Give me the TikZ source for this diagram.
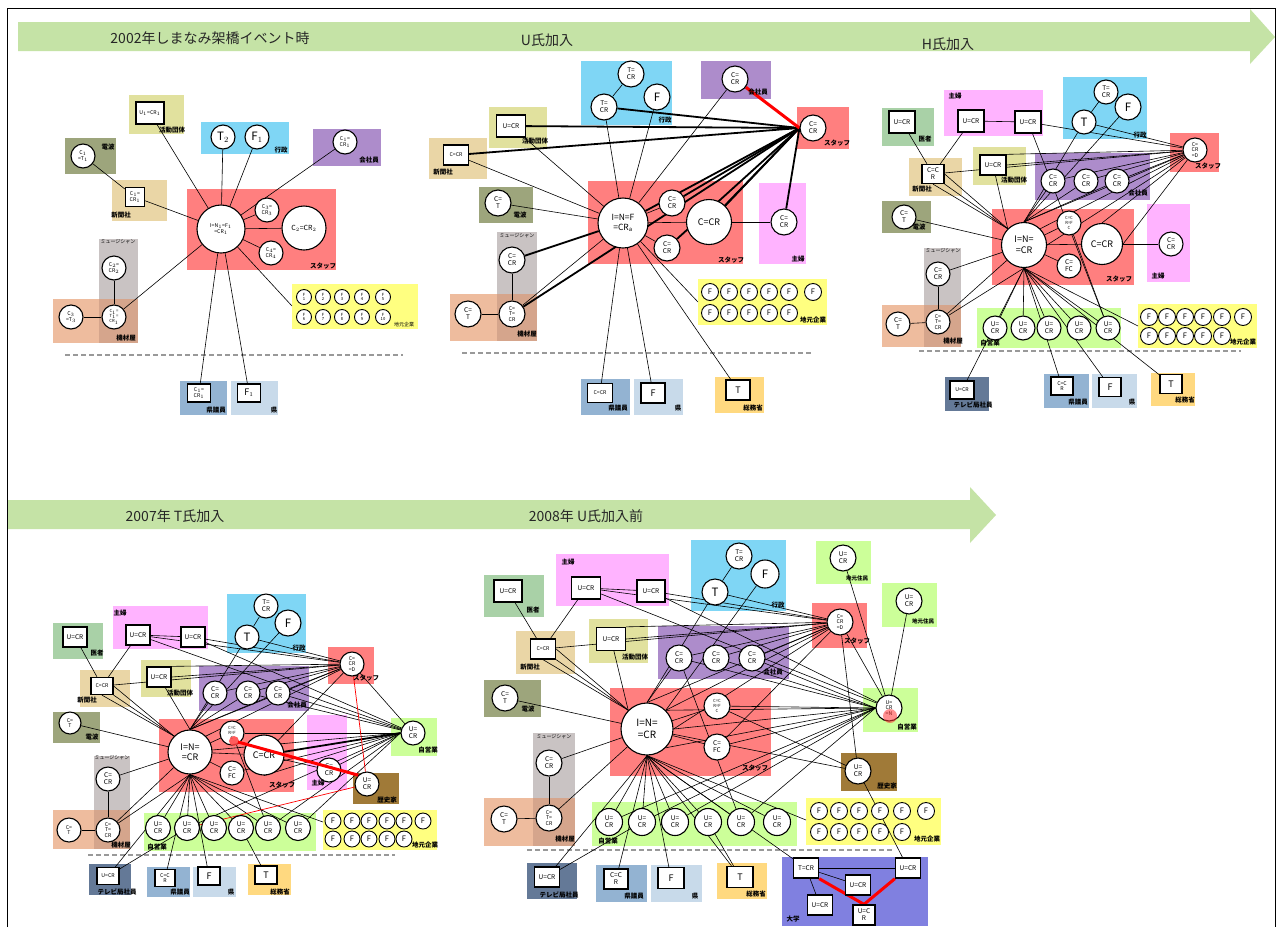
\documentclass[tikz,border=0pt]{standalone}
\usepackage{fontspec}
\setmainfont{Noto Sans CJK JP}
\usetikzlibrary{calc}
\pgfdeclarelayer{bgl}\pgfdeclarelayer{edl}
\pgfsetlayers{bgl,edl,main}
\definecolor{staffR}{HTML}{FF7F7F}
\definecolor{gyosei}{HTML}{7FD6F5}
\definecolor{kaisha}{HTML}{AD8CCB}
\definecolor{denpa}{HTML}{9DA57C}
\definecolor{shinbun}{HTML}{EAD6A6}
\definecolor{katsudo}{HTML}{E1E19E}
\definecolor{music}{HTML}{C9C3C3}
\definecolor{kizai}{HTML}{EEBC9E}
\definecolor{overlap}{HTML}{D5A58C}
\definecolor{chimoto}{HTML}{FFFF80}
\definecolor{kengiin}{HTML}{93B3D2}
\definecolor{ken}{HTML}{C8DAEA}
\definecolor{soumu}{HTML}{FFD980}
\definecolor{shufu}{HTML}{FFB3FF}
\definecolor{isha}{HTML}{A9D1A7}
\definecolor{jiei}{HTML}{CCFF99}
\definecolor{tvc}{HTML}{647997}
\definecolor{rekishi}{HTML}{A07A38}
\definecolor{daigaku}{HTML}{8080E0}
\definecolor{arrowg}{HTML}{C5E3A6}
\newcommand{\nfs}{\fontsize{6.5}{7}\selectfont}
\newcommand{\nfx}{\fontsize{5.2}{5.8}\selectfont}
\newcommand{\nft}{\fontsize{4.2}{4.6}\selectfont}
\newcommand{\nfm}{\fontsize{9}{9.5}\selectfont}
\newcommand{\nfl}{\fontsize{11.5}{12}\selectfont}
\newcommand{\lbf}{\fontsize{6.5}{7}\selectfont\bfseries}
\newcommand{\lsm}{\fontsize{5}{5.5}\selectfont}
\newcommand{\ttf}{\fontsize{14}{15}\selectfont}
\tikzset{
  cn/.style={circle,draw,fill=white,line width=1.1pt,inner sep=0pt,align=center,font=\nfs,minimum size=24pt},
  sq/.style={rectangle,draw,fill=white,line width=1.3pt,inner sep=0pt,align=center,font=\nfs,minimum width=24pt,minimum height=20pt},
  fc/.style={cn,minimum size=17pt,line width=0.9pt,font=\fontsize{7.5}{7.5}\selectfont},
  fcs/.style={cn,minimum size=15pt,line width=0.9pt,font=\nft},
  lab/.style={font=\lbf,inner sep=0pt},
  labs/.style={font=\lsm,inner sep=0pt},
  ttl/.style={font=\ttf,inner sep=0pt,text=black!85},
  e/.style={line width=0.6pt,black},
  tk/.style={line width=1.8pt,black},
  rd/.style={line width=3pt,red},
  rdt/.style={line width=0.7pt,red},
  dl/.style={line width=1.2pt,gray!80,dash pattern=on 5pt off 3pt}
}
\begin{document}
\begin{tikzpicture}[x=1pt,y=-1pt]
\useasboundingbox (0,0) rectangle (1276,927);
\begin{pgfonlayer}{bgl}
\fill[white] (0,0) rectangle (1276,927);
\draw[line width=1pt] (7,927)--(7,8)--(1275,8)--(1275,927);
\fill[arrowg] (18,22)--(1250,22)--(1250,9)--(1275,37)--(1250,64)--(1250,51)--(18,51)--cycle;
\fill[arrowg] (8,500)--(970,500)--(970,487)--(996,515)--(970,543)--(970,529)--(8,529)--cycle;
% panel 1 backgrounds
\fill[katsudo] (129,95) rectangle (184,134);
\fill[gyosei] (201,122) rectangle (289,154);
\fill[kaisha] (313,129) rectangle (381,166);
\fill[denpa] (65,138) rectangle (116,174);
\fill[shinbun] (112,180) rectangle (167,221);
\fill[staffR] (187,189) rectangle (336,270);
\fill[chimoto] (292,284) rectangle (418,329);
\fill[music] (99,239) rectangle (138,343);
\fill[kizai] (53,299) rectangle (138,343);
\fill[overlap] (99,299) rectangle (138,343);
\fill[kengiin] (180,381) rectangle (227,415);
\fill[ken] (231,381) rectangle (278,415);
\draw[dl] (65,355)--(403,355);
% panel 2 backgrounds
\fill[gyosei] (581,61) rectangle (672,125);
\fill[kaisha] (701,61) rectangle (771,99);
\fill[staffR] (797,107) rectangle (849,149);
\fill[katsudo] (489,107) rectangle (547,148);
\fill[shinbun] (429,138) rectangle (487,179);
\fill[denpa] (479,187) rectangle (533,223);
\fill[staffR] (588,181) rectangle (743,264);
\fill[shufu] (759,183) rectangle (806,264);
\fill[music] (497,232) rectangle (537,340);
\fill[kizai] (450,294) rectangle (537,341);
\fill[overlap] (497,294) rectangle (537,341);
\fill[chimoto] (698,279) rectangle (827,325);
\fill[kengiin] (581,379) rectangle (630,415);
\fill[ken] (634,379) rectangle (683,415);
\fill[soumu] (715,377) rectangle (764,413);
\draw[dl] (462,353)--(813,353);
% panel 3 backgrounds
\fill[isha] (882,108) rectangle (934,146);
\fill[shufu] (944,90) rectangle (1043,136);
\fill[gyosei] (1063,77) rectangle (1147,139);
\fill[staffR] (1170,133) rectangle (1219,172);
\fill[shinbun] (909,158) rectangle (962,196);
\fill[katsudo] (973,147) rectangle (1026,185);
\fill[kaisha] (1035,153) rectangle (1150,200);
\fill[denpa] (882,201) rectangle (931,233);
\fill[staffR] (992,209) rectangle (1134,285);
\fill[shufu] (1147,204) rectangle (1190,282);
\fill[music] (924,248) rectangle (961,347);
\fill[kizai] (882,305) rectangle (961,347);
\fill[overlap] (924,305) rectangle (961,347);
\fill[jiei] (977,308) rectangle (1121,348);
\fill[chimoto] (1138,304) rectangle (1257,348);
\fill[tvc] (945,377) rectangle (989,411);
\fill[kengiin] (1044,374) rectangle (1089,408);
\fill[ken] (1092,374) rectangle (1137,408);
\fill[soumu] (1151,373) rectangle (1195,406);
\draw[dl] (919,351)--(1241,351);
% panel 4 backgrounds
\fill[isha] (53,623) rectangle (103,659);
\fill[shufu] (113,606) rectangle (208,649);
\fill[gyosei] (227,594) rectangle (306,653);
\fill[staffR] (328,647) rectangle (374,684);
\fill[shinbun] (80,670) rectangle (130,707);
\fill[katsudo] (141,660) rectangle (191,697);
\fill[kaisha] (199,666) rectangle (309,711);
\fill[denpa] (53,712) rectangle (100,743);
\fill[staffR] (159,719) rectangle (294,792);
\fill[shufu] (307,715) rectangle (347,790);
\fill[jiei] (391,718) rectangle (437,756);
\fill[rekishi] (353,773) rectangle (399,804);
\fill[music] (94,756) rectangle (130,849);
\fill[kizai] (53,810) rectangle (130,849);
\fill[overlap] (94,810) rectangle (130,849);
\fill[jiei] (144,813) rectangle (316,851);
\fill[chimoto] (323,810) rectangle (437,850);
\fill[tvc] (89,864) rectangle (131,895);
\fill[kengiin] (147,867) rectangle (190,897);
\fill[ken] (193,867) rectangle (236,897);
\fill[soumu] (248,864) rectangle (291,895);
\draw[dl] (88,855)--(395,855);
% panel 5 backgrounds
\fill[isha] (484,575) rectangle (544,617);
\fill[shufu] (556,554) rectangle (669,606);
\fill[gyosei] (691,540) rectangle (786,611);
\fill[jiei] (816,541) rectangle (871,584);
\fill[jiei] (882,583) rectangle (937,627);
\fill[staffR] (812,603) rectangle (867,648);
\fill[shinbun] (516,631) rectangle (575,674);
\fill[katsudo] (589,619) rectangle (648,663);
\fill[kaisha] (658,626) rectangle (789,679);
\fill[denpa] (484,680) rectangle (541,717);
\fill[staffR] (610,688) rectangle (771,776);
\fill[jiei] (863,688) rectangle (918,732);
\fill[rekishi] (841,753) rectangle (897,791);
\fill[music] (533,733) rectangle (575,846);
\fill[kizai] (484,798) rectangle (575,846);
\fill[overlap] (533,798) rectangle (575,846);
\fill[jiei] (592,802) rectangle (797,846);
\fill[chimoto] (806,798) rectangle (941,845);
\fill[tvc] (527,863) rectangle (577,899);
\fill[kengiin] (596,865) rectangle (647,902);
\fill[ken] (651,865) rectangle (702,902);
\fill[soumu] (717,863) rectangle (767,899);
\fill[daigaku] (782,857) rectangle (928,926);
\draw[dl] (527,850)--(892,850);
\end{pgfonlayer}

% titles
\node[ttl] (tt1) at (210,38) {2002年しまなみ架橋イベント時};
\node[ttl] (tt2) at (547,40) {U氏加入};
\node[ttl] (tt3) at (948,44) {H氏加入};
\node[ttl] (tt4) at (175,516) {2007年 T氏加入};
\node[ttl] (tt5) at (586,516) {2008年 U氏加入前};

% ================= panel 1 =================
\node[sq,minimum width=28pt,minimum height=22pt,font=\nfx] (p1a) at (150,113) {U$_1$=CR$_1$};
\node[cn,font=\nfl] (p1t) at (223,137) {T$_2$};
\node[cn,font=\nfl] (p1f) at (257,137) {F$_1$};
\node[cn,font=\nfx] (p1k) at (345,142) {C$_1$=\\CR$_1$};
\node[cn,font=\nfx] (p1d) at (83,156) {C$_1$\\=T$_1$};
\node[sq,minimum width=19pt,minimum height=19pt,font=\nfx] (p1s) at (135,197) {C$_1$=\\CR$_1$};
\node[cn,minimum size=48pt,font=\nfx] (p1h) at (221,229) {I=N$_1$=F$_1$\\=CR$_1$};
\node[cn,font=\nfx] (p1c3) at (267,210) {C$_3$=\\CR$_3$};
\node[cn,minimum size=44pt,font=\fontsize{7}{8}\selectfont] (p1c2) at (304,228) {C$_2$=CR$_2$};
\node[cn,font=\nfx] (p1c4) at (271,253) {C$_4$=\\CR$_4$};
\foreach \x [count=\i] in {304,323,342,362,383} {\node[fcs] (p1f\i) at (\x,297) {F\\\i};}
\foreach \x [count=\i from 6] in {304,323,342,362,383} {\node[fcs] (p1f\i) at (\x,317) {F\\\i};}
\node[cn,font=\nfx] (p1m) at (114,268) {C$_2$=\\CR$_2$};
\node[cn,font=\nft] (p1g) at (114,317) {C$_1$=\\T$_1$=\\CR$_1$};
\node[cn,font=\nfx] (p1g3) at (71,317) {C$_3$\\=T$_3$};
\node[sq,minimum width=23pt,minimum height=18pt,font=\nfx] (p1kg) at (199,393) {C$_1$=\\CR$_1$};
\node[sq,minimum width=23pt,minimum height=18pt,font=\nfm] (p1ken) at (249,393) {F$_1$};
\coordinate (p1ch) at (292,306);
\node[lab] (l1a) at (172,130) {活動団体};
\node[lab] (l1b) at (281,150) {行政};
\node[lab] (l1c) at (369,160) {会社員};
\node[lab] (l1d) at (108,147) {電波};
\node[lab] (l1e) at (121,215) {新聞社};
\node[lab] (l1f) at (323,266) {スタッフ};
\node[labs] (l1g) at (404,325) {地元企業};
\node[labs] (l1h) at (118,242) {ミュージシャン};
\node[lab] (l1i) at (126,338) {機材屋};
\node[lab] (l1j) at (216,410) {県議員};
\node[lab] (l1k) at (274,410) {県};
\begin{pgfonlayer}{edl}
\foreach \n in {p1a,p1t,p1f,p1k,p1s,p1c3,p1c2,p1c4,p1ch,p1g,p1kg,p1ken} \draw[e] (p1h)--(\n);
\draw[e] (p1d)--(p1s);
\draw[e] (p1m)--(p1g);
\draw[e] (p1g3)--(p1g);
\end{pgfonlayer}

% ================= panel 2 =================
\node[cn,minimum size=26pt] (p2gt1) at (631,74) {T=\\CR};
\node[cn,minimum size=26pt] (p2gt2) at (604,107) {T=\\CR};
\node[cn,minimum size=26pt,font=\nfl] (p2gf) at (657,97) {F};
\node[cn,minimum size=26pt] (p2k) at (735,79) {C=\\CR};
\node[cn,minimum size=26pt] (p2st) at (813,128) {C=\\CR};
\node[sq,minimum width=29pt,minimum height=22pt] (p2a) at (511,126) {U=CR};
\node[sq,minimum width=25pt,minimum height=20pt,font=\nfx] (p2s) at (456,155) {C=CR};
\node[cn,minimum size=26pt] (p2d) at (498,203) {C=\\T};
\node[cn,minimum size=50pt,font=\fontsize{8.5}{10}\selectfont] (p2h) at (623,223) {I=N=F\\=CR$_{\mathrm{a}}$};
\node[cn,minimum size=26pt] (p2c1) at (672,203) {C=\\CR};
\node[cn,minimum size=26pt] (p2c2) at (667,248) {C=\\CR};
\node[cn,minimum size=45pt,font=\fontsize{9}{10}\selectfont] (p2c3) at (709,222) {C=CR};
\node[cn,minimum size=26pt] (p2sh) at (784,222) {C=\\CR};
\node[cn,minimum size=26pt] (p2m) at (512,260) {C=\\CR};
\node[cn,minimum size=26pt] (p2g2) at (468,314) {C=\\T};
\node[cn,minimum size=26pt,font=\nfx] (p2g1) at (512,314) {C=\\T=\\CR};
\foreach \x [count=\i] in {710,729,749,769,789,813} {\node[fc] (p2fa\i) at (\x,292) {F};}
\foreach \x [count=\i] in {710,729,749,769,789} {\node[fc] (p2fb\i) at (\x,313) {F};}
\node[sq,minimum width=25pt,minimum height=19pt,font=\nfx] (p2kg) at (600,393) {C=CR};
\node[sq,minimum width=24pt,minimum height=20pt,font=\nfm] (p2ken) at (653,393) {F};
\node[sq,minimum width=24pt,minimum height=20pt,font=\nfm] (p2so) at (738,390) {T};
\coordinate (p2ch) at (698,302);
\node[lab] (l2a) at (665,120) {行政};
\node[lab] (l2b) at (758,92) {会社員};
\node[lab] (l2c) at (837,143) {スタッフ};
\node[lab] (l2d) at (535,141) {活動団体};
\node[lab] (l2e) at (443,172) {新聞社};
\node[lab] (l2f) at (520,215) {電波};
\node[lab] (l2g) at (731,260) {スタッフ};
\node[lab] (l2h) at (798,259) {主婦};
\node[labs] (l2i) at (517,236) {ミュージシャン};
\node[lab] (l2j) at (527,334) {機材屋};
\node[lab] (l2k) at (813,320) {地元企業};
\node[lab] (l2l) at (618,408) {県議員};
\node[lab] (l2m) at (678,408) {県};
\node[lab] (l2n) at (753,408) {総務省};
\begin{pgfonlayer}{edl}
\foreach \n in {p2gt2,p2gf,p2k,p2a,p2s,p2d,p2c1,p2c2,p2c3,p2g1,p2ch,p2kg,p2ken,p2so} \draw[e] (p2h)--(\n);
\draw[e] (p2gt1)--(p2gt2);
\draw[e] (p2c3)--(p2sh);
\draw[e] (p2m)--(p2g1);
\draw[e] (p2g2)--(p2g1);
\draw[tk] (p2m)--(p2h);
\foreach \n in {p2gt2,p2a,p2s,p2h,p2c1,p2c3,p2c2,p2sh,p2g1} \draw[tk] (p2st.west)--(\n);
\draw[tk] (p2st.west)--(p2c3.north east);
\draw[rd] (p2k)--(p2st.west);
\end{pgfonlayer}

% ================= panel 3 =================
\node[sq,minimum width=26pt,minimum height=22pt] (p3i) at (902,122) {U=CR};
\node[sq,minimum width=26pt,minimum height=22pt] (p3u1) at (971,121) {U=CR};
\node[sq,minimum width=26pt,minimum height=22pt] (p3u2) at (1028,122) {U=CR};
\node[cn] (p3t) at (1106,92) {T=\\CR};
\node[cn,minimum size=26pt,font=\nfl] (p3f) at (1128,107) {F};
\node[cn,font=\nfl] (p3T) at (1084,122) {T};
\node[cn,font=\nfx] (p3st) at (1195,150) {C=\\CR\\=D};
\node[sq,minimum width=22pt,minimum height=19pt] (p3s) at (933,174) {C=C\\R};
\node[sq,minimum width=26pt,minimum height=20pt] (p3a) at (993,165) {U=CR};
\node[cn] (p3k1) at (1053,181) {C=\\CR};
\node[cn] (p3k2) at (1086,181) {C=\\CR};
\node[cn] (p3k3) at (1117,181) {C=\\CR};
\node[cn] (p3d) at (904,217) {C=\\T};
\node[cn,minimum size=45pt,font=\fontsize{9}{10.5}\selectfont] (p3h) at (1024,245) {I=N=\\=CR};
\node[cn,font=\nft] (p3c1) at (1069,223) {C=C\\R=F\\C};
\node[cn,minimum size=41pt,font=\fontsize{9}{10}\selectfont] (p3c2) at (1102,244) {C=CR};
\node[cn] (p3c3) at (1069,266) {C=\\FC};
\node[cn] (p3sh) at (1171,244) {C=\\CR};
\node[cn] (p3m) at (938,274) {C=\\CR};
\node[cn] (p3g2) at (898,324) {C=\\T};
\node[cn,font=\nfx] (p3g1) at (938,322) {C=\\T=\\CR};
\foreach \x [count=\i] in {995,1023,1049,1079,1108} {\node[cn] (p3j\i) at (\x,328) {U=\\CR};}
\foreach \x [count=\i] in {1149,1167,1185,1203,1222,1243} {\node[fc] (p3fa\i) at (\x,317) {F};}
\foreach \x [count=\i] in {1149,1167,1185,1203,1222} {\node[fc] (p3fb\i) at (\x,336) {F};}
\node[sq,minimum width=24pt,minimum height=18pt,font=\nfx] (p3tv) at (962,390) {U=CR};
\node[sq,minimum width=22pt,minimum height=18pt,font=\nfx] (p3kg) at (1062,386) {C=C\\R};
\node[sq,minimum width=22pt,minimum height=19pt,font=\nfm] (p3ken) at (1110,387) {F};
\node[sq,minimum width=22pt,minimum height=19pt,font=\nfm] (p3so) at (1171,384) {T};
\coordinate (p3ch) at (1138,326);
\node[lab] (l3a) at (925,139) {医者};
\node[lab] (l3b) at (955,96) {主婦};
\node[lab] (l3c) at (1140,135) {行政};
\node[lab] (l3d) at (1208,166) {スタッフ};
\node[lab] (l3e) at (922,189) {新聞社};
\node[lab] (l3f) at (1014,180) {活動団体};
\node[lab] (l3g) at (1138,193) {会社員};
\node[lab] (l3h) at (919,227) {電波};
\node[lab] (l3i) at (1119,279) {スタッフ};
\node[lab] (l3j) at (1158,276) {主婦};
\node[labs] (l3k) at (943,251) {ミュージシャン};
\node[lab] (l3l) at (953,341) {機材屋};
\node[lab] (l3m) at (990,343) {自営業};
\node[lab] (l3n) at (1243,342) {地元企業};
\node[lab] (l3o) at (973,405) {テレビ局社員};
\node[lab] (l3p) at (1078,402) {県議員};
\node[lab] (l3q) at (1132,402) {県};
\node[lab] (l3r) at (1185,400) {総務省};
\begin{pgfonlayer}{edl}
\draw[e] (p3i)--(p3s); \draw[e] (p3u1)--(p3s); \draw[e] (p3u1)--(p3u2);
\draw[e] (p3u2)--(p3st); \draw[e] (p3u2)--(p3j5);
\draw[e] (p3T)--(p3t); \draw[e] (p3T)--(p3st);
\draw[e] (p3T)--(p3h.north); \draw[e] (p3f)--(p3h.north);
\draw[e] (p3a.east)--(p3st); \draw[e] (p3a.north east)--(p3st);
\draw[e] (p3s)--(p3st);
\draw[e] (p3s.east)--(p3h.north west); \draw[e] (p3s.south east)--(p3h.north west); \draw[e] (p3s.south)--(p3h.north west);
\draw[e] (p3a)--(p3h.north west); \draw[e] (p3d)--(p3h);
\foreach \n in {p3k1,p3k2,p3k3} {\draw[e] (\n)--(p3st); \draw[e] (\n)--(p3h.north);}
\draw[e] (p3st)--(p3h.north); \draw[e] (p3st)--(p3h.north east); \draw[e] (p3st)--(p3h.east);
\draw[e] (p3st)--(p3c2.north); \draw[e] (p3st)--(p3c2.east);
\foreach \n in {p3c1,p3c2,p3c3,p3m} \draw[e] (p3h)--(\n);
\draw[e] (p3c2)--(p3sh); \draw[e] (p3c1)--(p3j5);
\draw[e] (p3h)--(p3g1); \draw[e] (p3h.south)--(p3g1); \draw[e] (p3m)--(p3g1); \draw[e] (p3g2)--(p3g1);
\foreach \n in {p3j1,p3j2,p3j3,p3j4,p3j5,p3ch,p3tv,p3kg,p3ken,p3so} \draw[e] (p3h.south)--(\n);
\end{pgfonlayer}

% ================= panel 4 =================
\node[sq,minimum width=24pt,minimum height=20pt] (p4i) at (75,637) {U=CR};
\node[sq,minimum width=24pt,minimum height=20pt] (p4u1) at (138,635) {U=CR};
\node[sq,minimum width=24pt,minimum height=20pt] (p4u2) at (193,637) {U=CR};
\node[cn] (p4t) at (266,606) {T=\\CR};
\node[cn,minimum size=26pt,font=\nfl] (p4f) at (288,623) {F};
\node[cn,font=\nfl] (p4T) at (247,637) {T};
\node[cn,font=\nfx] (p4st) at (352,664) {C=\\CR\\=D};
\node[sq,minimum width=22pt,minimum height=17pt,font=\nfx] (p4s) at (102,686) {C=CR};
\node[sq,minimum width=24pt,minimum height=20pt] (p4a) at (159,677) {U=CR};
\node[cn] (p4k1) at (215,693) {C=\\CR};
\node[cn] (p4k2) at (248,693) {C=\\CR};
\node[cn] (p4k3) at (278,693) {C=\\CR};
\node[cn,minimum size=22pt,font=\nfx] (p4d) at (70,723) {C=\\T};
\node[cn,minimum size=44pt,font=\fontsize{9}{10.5}\selectfont] (p4h) at (190,752) {I=N=\\=CR};
\node[cn,font=\nft] (p4c1) at (232,733) {C=C\\R=F\\C};
\node[cn,minimum size=40pt,font=\fontsize{9}{10}\selectfont] (p4c2) at (264,755) {C=CR};
\node[cn] (p4c3) at (232,773) {C=\\FC};
\node[cn] (p4sh) at (329,770) {C=\\CR};
\node[cn] (p4jr) at (413,733) {U=\\CR};
\node[cn] (p4rk) at (367,784) {U=\\CR};
\node[cn] (p4m) at (108,779) {C=\\CR};
\node[cn,font=\nfx] (p4g2) at (69,830) {C=\\T};
\node[cn,font=\nfx] (p4g1) at (108,830) {C=\\T=\\CR};
\foreach \x [count=\i] in {158,187,214,241,268,298} {\node[cn,minimum size=25pt] (p4j\i) at (\x,828) {U=\\CR};}
\foreach \x [count=\i] in {333,352,369,387,404,423} {\node[fc,minimum size=16pt] (p4fa\i) at (\x,821) {F};}
\foreach \x [count=\i] in {333,352,369,387,404} {\node[fc,minimum size=16pt] (p4fb\i) at (\x,839) {F};}
\node[sq,minimum width=22pt,minimum height=17pt,font=\nfx] (p4tv) at (108,876) {U=CR};
\node[sq,minimum width=20pt,minimum height=17pt,font=\nfx] (p4kg) at (165,878) {C=C\\R};
\node[sq,minimum width=22pt,minimum height=18pt,font=\nfm] (p4ken) at (209,876) {F};
\node[sq,minimum width=22pt,minimum height=18pt,font=\nfm] (p4so) at (266,875) {T};
\coordinate (p4ch) at (323,822);
\node[lab] (l4a) at (97,653) {医者};
\node[lab] (l4b) at (120,613) {主婦};
\node[lab] (l4c) at (299,648) {行政};
\node[lab] (l4d) at (366,678) {スタッフ};
\node[lab] (l4e) at (87,700) {新聞社};
\node[lab] (l4f) at (180,693) {活動団体};
\node[lab] (l4g) at (297,705) {会社員};
\node[lab] (l4h) at (92,737) {電波};
\node[lab] (l4i) at (282,785) {スタッフ};
\node[lab] (l4j) at (318,783) {主婦};
\node[lab] (l4k) at (428,750) {自営業};
\node[lab] (l4l) at (387,800) {歴史家};
\node[labs] (l4m) at (112,758) {ミュージシャン};
\node[lab] (l4n) at (121,845) {機材屋};
\node[lab] (l4o) at (157,847) {自営業};
\node[lab] (l4p) at (425,845) {地元企業};
\node[lab] (l4q) at (117,892) {テレビ局社員};
\node[lab] (l4r) at (180,892) {県議員};
\node[lab] (l4s) at (231,892) {県};
\node[lab] (l4t) at (280,892) {総務省};
\fill[red!75,opacity=0.85] (234,741) circle (5pt);
\begin{pgfonlayer}{edl}
\draw[e] (p4i)--(p4s); \draw[e] (p4u1)--(p4s); \draw[e] (p4u1)--(p4u2);
\draw[e] (p4u1)--(p4st); \draw[e] (p4u1)--(p4jr); \draw[e] (p4u2)--(p4st); \draw[e] (p4u2)--(p4jr);
\draw[e] (p4T)--(p4t); \draw[e] (p4T)--(p4st); \draw[e] (p4T)--(p4h.north); \draw[e] (p4f)--(p4h.north);
\draw[e] (p4a.east)--(p4st); \draw[e] (p4a.north east)--(p4st); \draw[e] (p4s)--(p4st);
\draw[e] (p4s.east)--(p4h.north west); \draw[e] (p4s.south east)--(p4h.north west); \draw[e] (p4s.south)--(p4h.north west);
\draw[e] (p4a)--(p4h.north); \draw[e] (p4d)--(p4h);
\foreach \n in {p4k1,p4k2,p4k3} {\draw[e] (\n)--(p4st); \draw[e] (\n)--(p4h.north);}
\draw[e] (p4k2)--(p4jr); \draw[e] (p4k3)--(p4jr);
\draw[e] (p4st)--(p4h.north); \draw[e] (p4st)--(p4h.north east); \draw[e] (p4st)--(p4c2); \draw[e] (p4st)--(p4jr);
\foreach \n in {p4c1,p4c2,p4c3,p4m} \draw[e] (p4h)--(\n);
\draw[e] (p4c2)--(p4sh);
\foreach \n in {p4h,p4c1,p4sh,p4c3,p4j2,p4j5,p4j6,p4c2.south} \draw[e] (p4jr.west)--(\n);
\draw[e] (p4h)--(p4g1); \draw[e] (p4m)--(p4g1); \draw[e] (p4g2)--(p4g1);
\foreach \n in {p4j1,p4j2,p4j3,p4j4,p4j5,p4j6,p4ch,p4tv,p4kg,p4ken,p4g1} \draw[e] (p4h.south)--(\n);
\draw[e] (p4j2)--(p4tv); \draw[e] (p4j4)--(p4so); \draw[e] (p4c1)--(p4j5);
\draw[tk] (p4c2)--(p4jr.west);
\draw[rdt] (p4st)--(p4rk); \draw[rdt] (p4j2)--(p4rk);
\end{pgfonlayer}
\draw[rd] (238,742)--(p4rk.north west);

% ================= panel 5 =================
\node[sq,minimum width=28pt,minimum height=22pt] (p5i) at (508,591) {U=CR};
\node[sq,minimum width=29pt,minimum height=22pt] (p5u1) at (586,588) {U=CR};
\node[sq,minimum width=28pt,minimum height=22pt] (p5u2) at (651,591) {U=CR};
\node[cn,minimum size=26pt] (p5t) at (739,556) {T=\\CR};
\node[cn,minimum size=28pt,font=\nfl] (p5f) at (765,574) {F};
\node[cn,minimum size=26pt,font=\nfl] (p5T) at (715,592) {T};
\node[cn,minimum size=26pt] (p5jm1) at (843,558) {U=\\CR};
\node[cn,minimum size=26pt] (p5jm2) at (909,601) {U=\\CR};
\node[cn,minimum size=26pt,font=\nfx] (p5st) at (840,622) {C=\\CR\\=D};
\node[sq,minimum width=25pt,minimum height=20pt,font=\nfx] (p5s) at (543,649) {C=CR};
\node[sq,minimum width=29pt,minimum height=23pt] (p5a) at (611,639) {U=CR};
\node[cn,minimum size=26pt] (p5k1) at (679,658) {C=\\CR};
\node[cn,minimum size=26pt] (p5k2) at (716,658) {C=\\CR};
\node[cn,minimum size=26pt] (p5k3) at (752,658) {C=\\CR};
\node[cn,minimum size=26pt] (p5d) at (505,698) {C=\\T};
\node[cn,minimum size=52pt,font=\fontsize{10}{11.5}\selectfont] (p5h) at (647,729) {I=N=\\=CR};
\node[cn,minimum size=26pt,font=\nft] (p5c1) at (717,706) {C=C\\R=F\\C};
\node[cn,minimum size=26pt] (p5c3) at (717,747) {C=\\FC};
\node[cn,minimum size=26pt,font=\nfx] (p5jr) at (889,708) {U=\\CR\\=N};
\node[cn,minimum size=26pt] (p5rk) at (858,771) {U=\\CR};
\node[cn,minimum size=26pt] (p5m) at (549,763) {C=\\CR};
\node[cn,minimum size=26pt] (p5g2) at (504,819) {C=\\T};
\node[cn,minimum size=26pt,font=\nfx] (p5g1) at (549,818) {C=\\T=\\CR};
\foreach \x [count=\i] in {609,642,675,708,741,777} {\node[cn,minimum size=27pt] (p5j\i) at (\x,822) {U=\\CR};}
\foreach \x [count=\i] in {819,839,859,880,902,926} {\node[fc] (p5fa\i) at (\x,811) {F};}
\foreach \x [count=\i] in {819,839,859,880,902} {\node[fc] (p5fb\i) at (\x,832) {F};}
\node[sq,minimum width=25pt,minimum height=20pt] (p5tv) at (547,877) {U=CR};
\node[sq,minimum width=24pt,minimum height=20pt] (p5kg) at (616,879) {C=C\\R};
\node[sq,minimum width=26pt,minimum height=21pt,font=\nfm] (p5ken) at (671,878) {F};
\node[sq,minimum width=26pt,minimum height=21pt,font=\nfm] (p5so) at (740,877) {T};
\node[sq,minimum width=25pt,minimum height=20pt] (p5ut) at (806,868) {T=CR};
\node[sq,minimum width=25pt,minimum height=20pt] (p5ur) at (908,868) {U=CR};
\node[sq,minimum width=25pt,minimum height=20pt] (p5um) at (858,885) {U=CR};
\node[sq,minimum width=25pt,minimum height=20pt] (p5ul) at (820,905) {U=CR};
\node[sq,minimum width=22pt,minimum height=20pt] (p5ub) at (864,915) {U=C\\R};
\coordinate (p5ch) at (806,820);
\node[lab] (l5a) at (533,610) {医者};
\node[lab] (l5b) at (568,562) {主婦};
\node[lab] (l5c) at (778,605) {行政};
\node[labs,font=\fontsize{5.5}{6}\selectfont\bfseries] (l5d) at (857,578) {地元住民};
\node[labs,font=\fontsize{5.5}{6}\selectfont\bfseries] (l5e) at (923,621) {地元住民};
\node[lab] (l5f) at (857,641) {スタッフ};
\node[lab] (l5g) at (530,667) {新聞社};
\node[lab] (l5h) at (635,657) {活動団体};
\node[lab] (l5i) at (773,672) {会社員};
\node[lab] (l5j) at (528,709) {電波};
\node[lab] (l5k) at (755,768) {スタッフ};
\node[lab] (l5l) at (907,727) {自営業};
\node[lab] (l5m) at (887,786) {歴史家};
\node[labs] (l5n) at (554,737) {ミュージシャン};
\node[lab] (l5o) at (565,839) {機材屋};
\node[lab] (l5p) at (608,841) {自営業};
\node[lab] (l5q) at (927,839) {地元企業};
\node[lab] (l5r) at (559,895) {テレビ局社員};
\node[lab] (l5s) at (634,896) {県議員};
\node[lab] (l5t) at (695,896) {県};
\node[lab] (l5u) at (756,894) {総務省};
\node[lab] (l5v) at (793,919) {大学};
\fill[red!80,opacity=0.55] (890,716) circle (7pt);
\begin{pgfonlayer}{edl}
\draw[e] (p5i)--(p5s); \draw[e] (p5u1)--(p5s); \draw[e] (p5u1)--(p5u2);
\draw[e] (p5u1)--(p5st); \draw[e] (p5u1)--(p5jr); \draw[e] (p5u2)--(p5st); \draw[e] (p5u2)--(p5jr);
\draw[e] (p5T)--(p5t); \draw[e] (p5T)--(p5st); \draw[e] (p5T)--(p5h.north); \draw[e] (p5f)--(p5h.north east);
\draw[e] (p5a.east)--(p5st); \draw[e] (p5a.north east)--(p5st); \draw[e] (p5s)--(p5st);
\draw[e] (p5s.east)--(p5h.north west); \draw[e] (p5s.south east)--(p5h.north west); \draw[e] (p5s.south)--(p5h.north west);
\draw[e] (p5a)--(p5h.north west); \draw[e] (p5d)--(p5h);
\foreach \n in {p5k1,p5k2,p5k3} {\draw[e] (\n)--(p5st); \draw[e] (\n)--(p5jr.west);}
\draw[e] (p5k1)--(p5h.north); \draw[e] (p5k1)--(p5j5);
\draw[e] (p5jm1)--(p5jr); \draw[e] (p5jm2)--(p5jr);
\draw[e] (p5st)--(p5h.north); \draw[e] (p5st)--(p5h.north east); \draw[e] (p5st)--(p5h.east);
\draw[e] (p5st)--(p5jr); \draw[e] (p5st)--(p5rk); \draw[e] (p5st)--(p5c3);
\draw[e] (p5h)--(p5c1); \draw[e] (p5h)--(p5c3); \draw[e] (p5h)--(p5m);
\foreach \n in {p5h.east,p5h.north east,p5c1,p5c3,p5j1,p5j2,p5j3,p5j5,p5h.south east} \draw[e] (p5jr.west)--(\n);
\draw[e] (p5c1)--(p5rk); \draw[e] (p5h)--(p5rk); \draw[e] (p5rk)--(p5ur);
\draw[e] (p5h)--(p5g1); \draw[e] (p5m)--(p5g1); \draw[e] (p5g2)--(p5g1);
\foreach \n in {p5j1,p5j2,p5j3,p5j4,p5j5,p5j6,p5ch,p5tv,p5kg,p5ken,p5so,p5ut} \draw[e] (p5h.south)--(\n);
\draw[e] (p5j2)--(p5tv); \draw[e] (p5j4)--(p5so);
\draw[e] (p5ut)--(p5ur); \draw[e] (p5ut)--(p5um); \draw[e] (p5ut)--(p5ul);
\draw[rd] (p5ut.south east)--(p5ub.north)--(p5ur.south west);
\end{pgfonlayer}
\end{tikzpicture}
\end{document}
